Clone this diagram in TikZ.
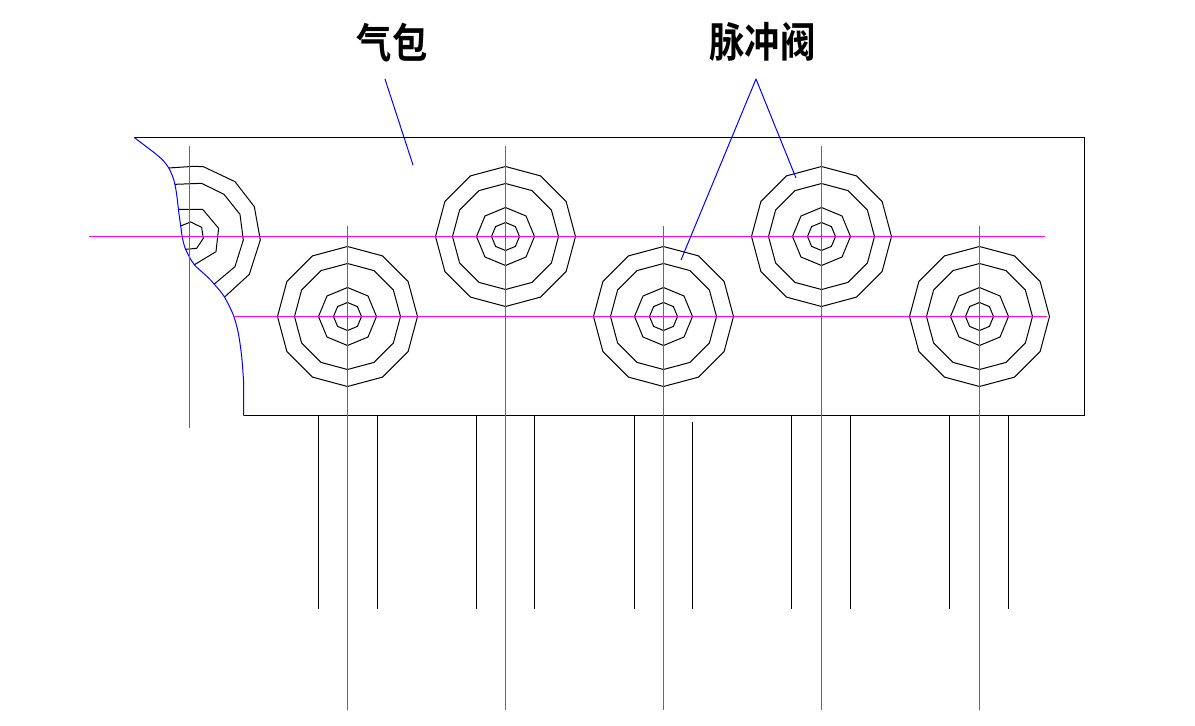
\documentclass[tikz,border=0pt]{standalone}
\usepackage{fontspec}
\newfontfamily\cjkbold[BoldFont=Noto Sans CJK SC Bold]{Noto Sans CJK SC}
\definecolor{leader}{RGB}{0,0,255}
\definecolor{axis}{RGB}{255,0,255}
\tikzset{
  outline/.style={draw=black,line width=1pt},
  axisline/.style={draw=axis,line width=1pt},
  leaderline/.style={draw=leader,line width=1pt,line join=round},
  lbl/.style={font=\cjkbold\bfseries\fontsize{36}{36}\selectfont,inner sep=0pt,text=black}
}
% valve: rings of polygons around a centre
\newcommand{\valverings}[2]{%
  \draw[outline] plot[samples at={90,120,...,450}] ({#1+70*cos(\x)},{#2+70*sin(\x)}) -- cycle;
  \draw[outline] plot[samples at={90,120,...,450}] ({#1+53*cos(\x)},{#2+53*sin(\x)}) -- cycle;
  \draw[outline] plot[samples at={90,135,...,450}] ({#1+29*cos(\x)},{#2+29*sin(\x)}) -- cycle;
  \draw[outline] plot[samples at={90,135,...,450}] ({#1+14*cos(\x)},{#2+14*sin(\x)}) -- cycle;
}
\begin{document}
\begin{tikzpicture}[x=1pt,y=-1pt]
\useasboundingbox[fill=white] (0,0) rectangle (1195,726);
% valves
\foreach \cx/\cy in {347.5/316.5,505.5/236.5,663.5/316.5,821.5/236.5,979.5/316.5}{\valverings{\cx}{\cy}}
% partial valve cut by the edge curve
\begin{scope}[shift={(120,125)},x=0.3333pt,y=-0.3333pt]
  \draw[outline] (145,129) -- (222,124) -- (250,125) -- (345,170) -- (403,245) -- (421,345) -- (388,448) -- (315,515);
  \draw[outline] (165,178) -- (245,175) -- (312,208) -- (360,268) -- (370,345) -- (345,425) -- (282,478);
  \draw[outline] (175,253) -- (248,253) -- (296,310) -- (288,380) -- (222,420);
  \draw[outline] (182,303) -- (212,291) -- (245,307) -- (250,340) -- (230,370) -- (197,373);
\end{scope}
% pipes
\foreach \px/\py in {318.5/415,377.5/415,476.5/415,534.5/415,634.5/415,692.5/422,791.5/415,850.5/415,949.5/415,1008.5/415}{
  \draw[outline] (\px,\py) -- (\px,609);
}
% body outline
\draw[outline] (134,137.5) -- (1084.5,137.5) -- (1084.5,415.5) -- (243.5,415.5);
% edge curve
\draw[leaderline] plot[smooth,tension=0.5] coordinates {(134.3,137.5) (145,145.7) (155,153.3) (163.3,160.7) (169,168.3) (173.3,178.3) (175.7,188.3)
  (177.3,199.3) (178.5,210) (180.7,226) (182.5,238.3) (185,247.7) (189.3,256.7) (195,265.5)
  (207.3,276.7) (215,285) (224.3,296.7) (233.3,315) (238.3,333) (241.7,356.7) (243.5,380)} -- (243.5,415.5);
% axes
\draw[axisline] (89,236.5) -- (1045,236.5);
\draw[axisline] (233,316.5) -- (1047,316.5);
\draw[axisline] (189.5,146) -- (189.5,428);
\foreach \ax/\ay in {347.5/226,505.5/146,663.5/226,821.5/146,979.5/226}{
  \draw[axisline] (\ax,\ay) -- (\ax,710);
}
% labels and leaders
\node[lbl] (qibao) at (392,43) {\scalebox{0.98}[1.15]{气包}};
\node[lbl] (maichong) at (762.5,41.5) {\scalebox{0.98}[1.15]{脉冲阀}};
\coordinate (qa) at (385,79);
\coordinate (qb) at (413,165);
\coordinate (ma) at (756,79);
\coordinate (mb) at (681,260);
\coordinate (mc) at (796,178);
\draw[leaderline] (qa) -- (qb);
\draw[leaderline] (mb) -- (ma) -- (mc);
\end{tikzpicture}
\end{document}
